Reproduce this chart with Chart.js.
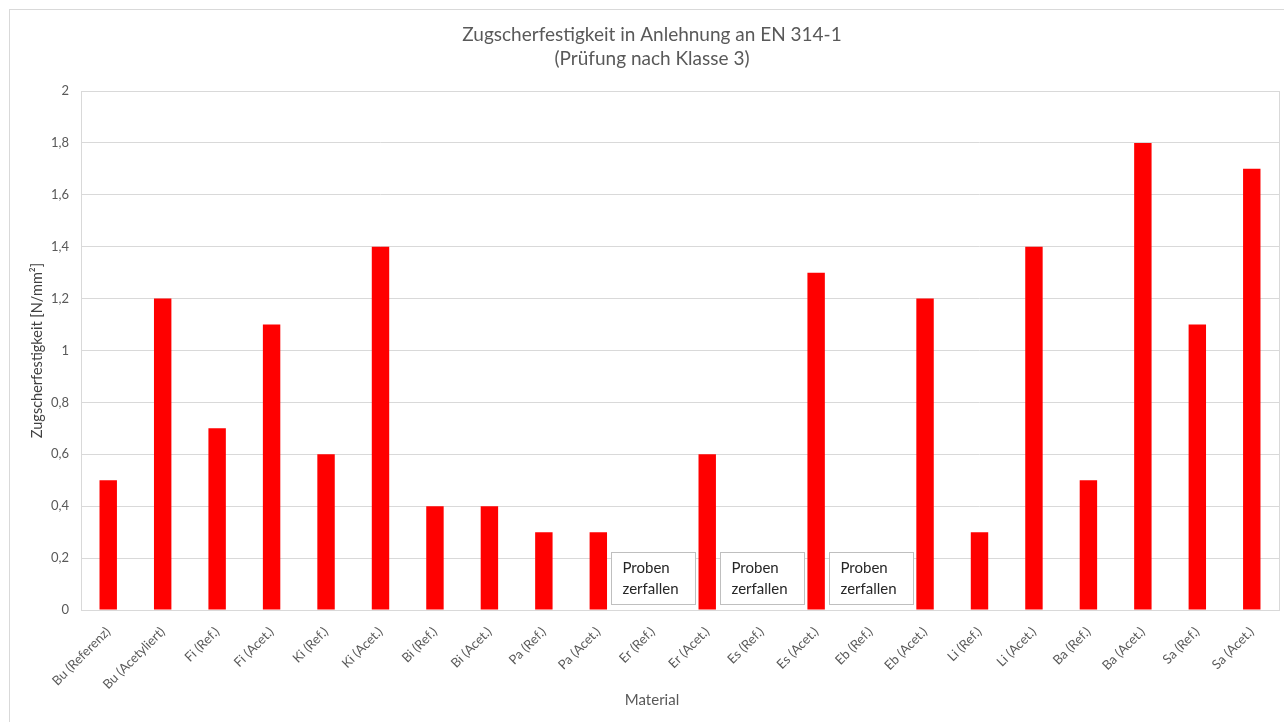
<!DOCTYPE html>
<html lang="de">
<head>
<meta charset="utf-8">
<title>Zugscherfestigkeit</title>
<script src="https://cdn.jsdelivr.net/npm/chart.js@4/dist/chart.umd.min.js"></script>
<style>
  html, body { margin: 0; padding: 0; background: #fff; overflow: hidden; }
  canvas { display: block; }
</style>
</head>
<body>
<canvas id="graf" width="1284" height="722"></canvas>
<script>
// Proben und Messwerte (null = Probe zerfallen)
const proben = [
  'Bu (Referenz)', 'Bu (Acetyliert)', 'Fi (Ref.)', 'Fi (Acet.)', 'Ki (Ref.)', 'Ki (Acet.)',
  'Bi (Ref.)', 'Bi (Acet.)', 'Pa (Ref.)', 'Pa (Acet.)', 'Er (Ref.)', 'Er (Acet.)',
  'Es (Ref.)', 'Es (Acet.)', 'Eb (Ref.)', 'Eb (Acet.)', 'Li (Ref.)', 'Li (Acet.)',
  'Ba (Ref.)', 'Ba (Acet.)', 'Sa (Ref.)', 'Sa (Acet.)'
];
const festigkeit = [
  0.5, 1.2, 0.7, 1.1, 0.6, 1.4,
  0.4, 0.4, 0.3, 0.3, null, 0.6,
  null, 1.3, null, 1.2, 0.3, 1.4,
  0.5, 1.8, 1.1, 1.7
];
const titel = ['Zugscherfestigkeit in Anlehnung an EN 314-1', '(Prüfung nach Klasse 3)'];
const achseX = 'Material';
const achseY = 'Zugscherfestigkeit [N/mm²]';
const hinweis = ['Proben', 'zerfallen'];

const grau = '#595959';
const linie = '#d9d9d9';
const schrift = 'Lato, "Open Sans", sans-serif';

// Rahmen, Titel, Plotbox und Hinweiskästen für zerfallene Proben
const rahmenPlugin = {
  id: 'rahmen',
  beforeDraw(chart) {
    const { ctx } = chart;
    ctx.save();
    ctx.fillStyle = '#fff';
    ctx.fillRect(0, 0, chart.width, chart.height);
    ctx.strokeStyle = linie;
    ctx.lineWidth = 1;
    ctx.strokeRect(9.5, 9.5, chart.width + 20, chart.height + 20);

    // Titel mittig im Rahmen
    ctx.fillStyle = grau;
    ctx.textAlign = 'center';
    ctx.textBaseline = 'middle';
    ctx.font = '19px ' + schrift;
    ctx.fillText(titel[0], 652, 35);
    ctx.fillText(titel[1], 652, 59);
    ctx.font = '15px ' + schrift;
    ctx.fillText(achseX, 652, 700);
    ctx.restore();
  },
  afterDraw(chart) {
    const { ctx, chartArea: a, scales: { x, y } } = chart;
    ctx.save();
    ctx.strokeStyle = linie;
    ctx.lineWidth = 1;
    ctx.strokeRect(Math.round(a.left) + 0.5, Math.round(a.top) + 0.5,
      Math.round(a.right - a.left), Math.round(a.bottom - a.top));

    festigkeit.forEach((v, i) => {
      if (v !== null) return;
      const cx = x.getPixelForValue(i);
      const boden = y.getPixelForValue(0) - 6;
      const bx = Math.round(cx - 42) + 0.5;
      const by = Math.round(boden - 52) + 0.5;
      ctx.fillStyle = '#fff';
      ctx.fillRect(bx, by, 84, 52);
      ctx.strokeStyle = '#bfbfbf';
      ctx.strokeRect(bx, by, 84, 52);
      ctx.fillStyle = '#262626';
      ctx.font = '15px ' + schrift;
      ctx.textAlign = 'left';
      ctx.textBaseline = 'middle';
      ctx.fillText(hinweis[0], bx + 11, by + 16);
      ctx.fillText(hinweis[1], bx + 11, by + 37);
    });
    ctx.restore();
  }
};

Chart.register(rahmenPlugin);

new Chart(document.getElementById('graf'), {
  type: 'bar',
  data: {
    labels: proben,
    datasets: [{
      label: 'Zugscherfestigkeit',
      data: festigkeit,
      backgroundColor: '#ff0000',
      borderWidth: 0,
      barPercentage: 0.32,
      categoryPercentage: 1
    }]
  },
  options: {
    responsive: false,
    animation: false,
    devicePixelRatio: 1,
    layout: { padding: { left: 0, right: 5, top: 91, bottom: 0 } },
    plugins: {
      legend: { display: false },
      tooltip: { enabled: false },
      title: { display: false }
    },
    scales: {
      x: {
        grid: { display: false, drawTicks: false },
        border: { display: true, color: linie },
        ticks: {
          color: grau,
          font: { family: schrift, size: 13 },
          minRotation: 45,
          maxRotation: 45,
          autoSkip: false,
          padding: 14
        },
        afterFit(scale) { scale.height = 112; }
      },
      y: {
        min: 0,
        max: 2,
        grid: { color: linie, drawTicks: false },
        border: { display: false },
        ticks: {
          stepSize: 0.2,
          color: grau,
          font: { family: schrift, size: 13 },
          padding: 12,
          callback: (v) => String(Math.round(v * 10) / 10).replace('.', ',')
        },
        title: {
          display: true,
          text: achseY,
          color: '#404040',
          font: { family: schrift, size: 14.5 },
          padding: { top: 29, bottom: 0 }
        },
        afterFit(scale) { scale.width = 81; }
      }
    }
  }
});
</script>
</body>
</html>
